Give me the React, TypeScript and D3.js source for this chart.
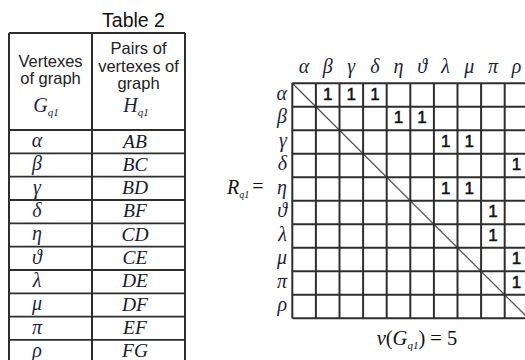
import React from "react";
import * as d3 from "d3";

const vertexes = ["α", "β", "γ", "δ", "η", "ϑ", "λ", "μ", "π", "ρ"];
const pairs = ["AB", "BC", "BD", "BF", "CD", "CE", "DE", "DF", "EF", "FG"];
// cells of the matrix R_q1 that hold a 1: [row, column]
const adjacency: [string, string][] = [
  ["α", "β"], ["α", "γ"], ["α", "δ"],
  ["β", "η"], ["β", "ϑ"],
  ["γ", "λ"], ["γ", "μ"],
  ["δ", "ρ"],
  ["η", "λ"], ["η", "μ"],
  ["ϑ", "π"],
  ["λ", "π"],
  ["μ", "ρ"],
  ["π", "ρ"],
];
const tableTitle = "Table 2";
const header1 = ["Vertexes", "of graph"];
const header2 = ["Pairs of", "vertexes of", "graph"];
const nuValue = 5;

const SANS = "'Liberation Sans', Arial, Helvetica, sans-serif";
const SERIF = "'Liberation Serif', 'Times New Roman', serif";
const LINE = "#2e2e2e";
const GREEK = "#1d1f3a";

export default function App() {
  const W = 525, H = 360;

  // Table geometry
  const tL = 9, tM = 92, tR = 185, tTop = 33, tHead = 130;
  const rowY = d3.scaleBand<string>().domain(vertexes).range([tHead, tHead + 23.33 * vertexes.length]);
  const c1 = 37, c2 = 135;

  // Matrix geometry
  const mx = d3.scaleBand<string>().domain(vertexes).range([292.3, 292.3 + 23.6 * vertexes.length]);
  const my = d3.scaleBand<string>().domain(vertexes).range([83.3, 83.3 + 23.5 * vertexes.length]);
  const [gx0, gx1] = mx.range();
  const [gy0, gy1] = my.range();

  const gridX = vertexes.map((v) => mx(v)!).concat([gx1]);
  const gridY = vertexes.map((v) => my(v)!).concat([gy1]);

  return (
    <svg
      width={W}
      height={H}
      viewBox={`0 0 ${W} ${H}`}
      style={{ position: "absolute", left: 0, top: 0, background: "#fff" }}
    >
      <rect x={0} y={0} width={W} height={H} fill="#fff" />

      {/* ---------- Table 2 ---------- */}
      <text x={133.5} y={26.5} textAnchor="middle" fontFamily={SANS} fontSize={19.5} fill="#111">
        {tableTitle}
      </text>

      {/* header texts */}
      {header1.map((t, i) => (
        <text key={"h1" + i} x={50.5} y={66.5 + i * 17.8} textAnchor="middle" fontFamily={SANS} fontSize={16.5} fill="#222">
          {t}
        </text>
      ))}
      <text x={46} y={112} textAnchor="middle" fontFamily={SERIF} fontStyle="italic" fontSize={20} fill={GREEK}>
        G<tspan fontSize={11} dy={4}>q1</tspan>
      </text>
      {header2.map((t, i) => (
        <text key={"h2" + i} x={138.5} y={54.3 + i * 17.4} textAnchor="middle" fontFamily={SANS} fontSize={16.5} fill="#222">
          {t}
        </text>
      ))}
      <text x={136} y={112} textAnchor="middle" fontFamily={SERIF} fontStyle="italic" fontSize={20} fill={GREEK}>
        H<tspan fontSize={11} dy={4}>q1</tspan>
      </text>

      {/* body rows */}
      {vertexes.map((v, i) => (
        <g key={"tr" + v}>
          <text x={c1} y={rowY(v)! + 17} textAnchor="middle" fontFamily={SERIF} fontStyle="italic" fontSize={20} fill={GREEK}>
            {v}
          </text>
          <text x={c2} y={rowY(v)! + 17.5} textAnchor="middle" fontFamily={SERIF} fontStyle="italic" fontSize={19.5} fill="#1a1a2a">
            {pairs[i]}
          </text>
          <line x1={tL} x2={tR} y1={rowY(v)! + rowY.bandwidth()} y2={rowY(v)! + rowY.bandwidth()} stroke={LINE} strokeWidth={1.8} />
        </g>
      ))}

      {/* table frame */}
      <line x1={tL} x2={tR} y1={tTop} y2={tTop} stroke={LINE} strokeWidth={2} />
      <line x1={tL} x2={tR} y1={tHead} y2={tHead} stroke={LINE} strokeWidth={2.2} />
      <line x1={tL} x2={tL} y1={tTop} y2={H} stroke={LINE} strokeWidth={2} />
      <line x1={tM} x2={tM} y1={tTop} y2={H} stroke={LINE} strokeWidth={2} />
      <line x1={tR} x2={tR} y1={tTop} y2={H} stroke={LINE} strokeWidth={2} />

      {/* ---------- Matrix R_q1 ---------- */}
      {vertexes.map((v) => (
        <text key={"ch" + v} x={mx(v)! + mx.bandwidth() / 2} y={73} textAnchor="middle" fontFamily={SERIF} fontStyle="italic" fontSize={20} fill={GREEK}>
          {v}
        </text>
      ))}
      {vertexes.map((v) => (
        <text key={"rh" + v} x={287} y={my(v)! + 16.5} textAnchor="end" fontFamily={SERIF} fontStyle="italic" fontSize={20} fill={GREEK}>
          {v}
        </text>
      ))}
      <text x={227} y={my("η")! + 17} fontFamily={SERIF} fontStyle="italic" fontSize={20} fill="#111">
        R<tspan fontSize={10} dy={4}>q1</tspan>
      </text>
      <text x={258} y={my("η")! + 16} textAnchor="middle" fontFamily={SERIF} fontSize={20} fill="#111">
        =
      </text>

      {/* diagonal */}
      <line x1={gx0} y1={gy0} x2={gx1} y2={gy1} stroke="#555" strokeWidth={1.3} />

      {/* grid */}
      {gridX.map((x, i) => (
        <line key={"gx" + i} x1={x} x2={x} y1={gy0} y2={gy1} stroke={LINE} strokeWidth={2} />
      ))}
      {gridY.map((y, i) => (
        <line key={"gy" + i} x1={gx0} x2={gx1} y1={y} y2={y} stroke={LINE} strokeWidth={2} />
      ))}

      {/* ones */}
      {adjacency.map(([r, c]) => (
        <text key={r + c} x={mx(c)! + mx.bandwidth() / 2} y={my(r)! + 16.2} textAnchor="middle" fontFamily={SANS} fontSize={17} fill="#111" stroke="#111" strokeWidth={0.5}>
          1
        </text>
      ))}

      {/* nu(G_q1) = 5 */}
      <text x={417} y={345} textAnchor="middle" fontFamily={SERIF} fontSize={20.5} fill="#111">
        <tspan fontStyle="italic">ν</tspan>
        <tspan>(</tspan>
        <tspan fontStyle="italic">G</tspan>
        <tspan fontStyle="italic" fontSize={11} dy={4}>q1</tspan>
        <tspan dy={-4}>) = {nuValue}</tspan>
      </text>
    </svg>
  );
}
